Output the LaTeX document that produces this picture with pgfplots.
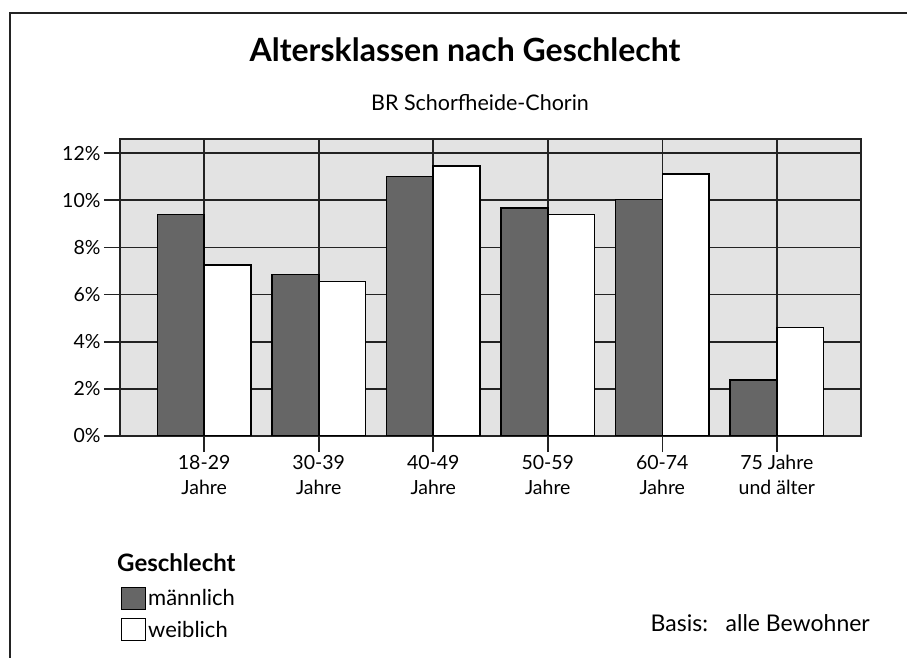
\documentclass[border=0pt]{standalone}
\usepackage{pgfplots}
\pgfplotsset{compat=1.18}
\usepackage{fontspec}
\setmainfont{Lato}
\definecolor{bg}{RGB}{227,227,227}
\definecolor{male}{RGB}{102,102,102}
\definecolor{ln}{RGB}{35,35,35}
\begin{document}
\begin{tikzpicture}[x=1pt,y=1pt]
\useasboundingbox (0,0) rectangle (907,658);
\draw[line width=1.6pt, ln] (10,0) -- (10,645) -- (907,645);
\node[font=\fontsize{32}{37}\selectfont\bfseries] at (465,608) {Altersklassen nach Geschlecht};
\node[font=\fontsize{21.5}{26}\selectfont] at (480,555) {BR Schorfheide-Chorin};
\node[font=\fontsize{24}{28}\selectfont\bfseries, anchor=west, inner sep=0pt] at (117,95) {Geschlecht};
\node[font=\fontsize{23}{27}\selectfont, anchor=east, inner sep=0pt] at (870,35) {Basis:\ \ \ alle Bewohner};
\begin{axis}[
  at={(120pt,222pt)}, anchor=south west, scale only axis,
  width=741pt, height=297pt,
  xmin=-0.735, xmax=5.735, ymin=0, ymax=12.6,
  ybar=0pt, bar width=0.407,
  axis background/.style={fill=bg},
  xtick={0,...,5}, ytick={0,2,...,12},
  xticklabels={{18-29\\Jahre},{30-39\\Jahre},{40-49\\Jahre},{50-59\\Jahre},{60-74\\Jahre},{75 Jahre\\und älter}},
  yticklabels={0\%,2\%,4\%,6\%,8\%,10\%,12\%},
  xmajorgrids, ymajorgrids,
  grid style={ln, line width=1.6pt},
  axis line style={ln, line width=1.6pt},
  tick style={ln, line width=1.6pt},
  tick align=outside, major tick length=16pt,
  tick pos=left,
  ticklabel style={font=\fontsize{19.5}{25}\selectfont},
  xticklabel style={align=center},
  legend style={at={(0.0013,-0.508)}, anchor=north west, draw=none, fill=none,
    font=\fontsize{22}{25}\selectfont, row sep=8pt, inner sep=0pt, outer sep=0pt,
    legend cell align=left,
    /tikz/every even column/.append style={column sep=3pt}},
  legend image code/.code={\draw[#1, line width=1.2pt] (0pt,-11pt) rectangle (24pt,11pt);},
]
\addplot[fill=male, draw=black, line width=1.6pt] coordinates {(0,9.40) (1,6.85) (2,11.01) (3,9.67) (4,10.03) (5,2.38)};
\addplot[fill=white, draw=black, line width=1.6pt] coordinates {(0,7.25) (1,6.55) (2,11.46) (3,9.40) (4,11.11) (5,4.60)};
\legend{männlich,weiblich}
\end{axis}
\end{tikzpicture}
\end{document}
